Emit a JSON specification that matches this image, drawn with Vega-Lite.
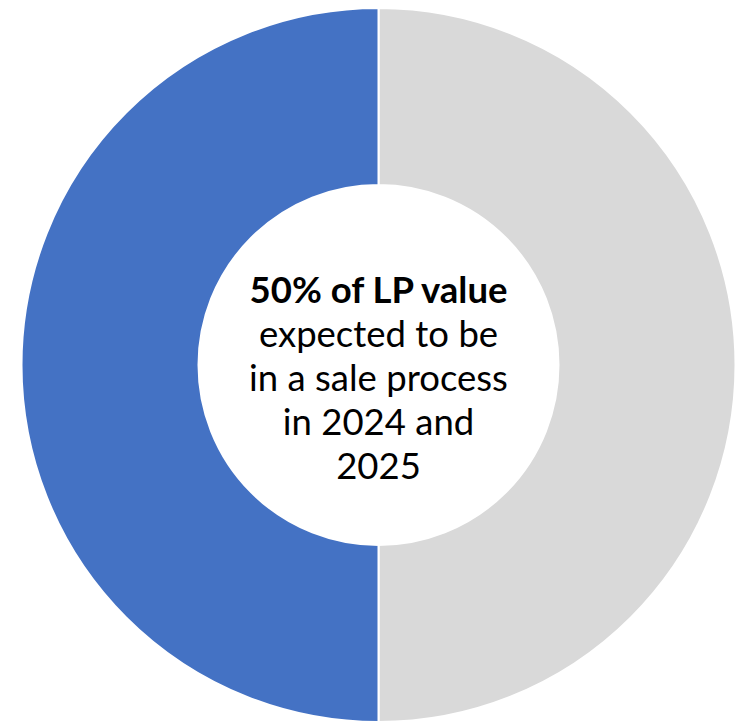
{
  "$schema": "https://vega.github.io/schema/vega-lite/v6.json",
  "autosize": {"type": "fit", "contains": "padding"},
  "width": 751,
  "height": 727,
  "padding": {"left": 6, "top": 3, "right": 0, "bottom": 0},
  "background": "white",
  "view": {"stroke": null},
  "datasets": {
    "slices": [
      {"segment": "Other", "share": 50, "order": 1},
      {"segment": "In a sale process in 2024 and 2025", "share": 50, "order": 2}
    ],
    "label": [
      {"row": 0, "text": "50% of LP value", "weight": "bold"},
      {"row": 1, "text": "expected to be", "weight": "normal"},
      {"row": 2, "text": "in a sale process", "weight": "normal"},
      {"row": 3, "text": "in 2024 and", "weight": "normal"},
      {"row": 4, "text": "2025", "weight": "normal"}
    ]
  },
  "layer": [
    {
      "data": {"name": "slices"},
      "mark": {"type": "arc", "innerRadius": 180, "outerRadius": 357, "stroke": "white", "strokeWidth": 2},
      "encoding": {
        "theta": {"field": "share", "type": "quantitative", "stack": true},
        "order": {"field": "order", "type": "quantitative"},
        "color": {
          "field": "segment",
          "type": "nominal",
          "scale": {"domain": ["Other", "In a sale process in 2024 and 2025"], "range": ["#D9D9D9", "#4472C4"]},
          "legend": null
        }
      }
    },
    {
      "data": {"name": "label"},
      "transform": [{"filter": "datum.weight === 'normal'"}],
      "mark": {"type": "text", "font": "Lato", "fontSize": 36.5, "fontWeight": "normal", "color": "black", "align": "center", "baseline": "middle"},
      "encoding": {
        "y": {"field": "row", "type": "quantitative", "scale": {"domain": [-6.57, 9.88], "reverse": true, "nice": false, "zero": false}, "axis": null},
        "text": {"field": "text", "type": "nominal"}
      }
    },
    {
      "data": {"name": "label"},
      "transform": [{"filter": "datum.weight === 'bold'"}],
      "mark": {"type": "text", "font": "Lato", "fontSize": 36.5, "fontWeight": "bold", "color": "black", "align": "center", "baseline": "middle"},
      "encoding": {
        "y": {"field": "row", "type": "quantitative", "scale": {"domain": [-6.57, 9.88], "reverse": true, "nice": false, "zero": false}, "axis": null},
        "text": {"field": "text", "type": "nominal"}
      }
    }
  ]
}
